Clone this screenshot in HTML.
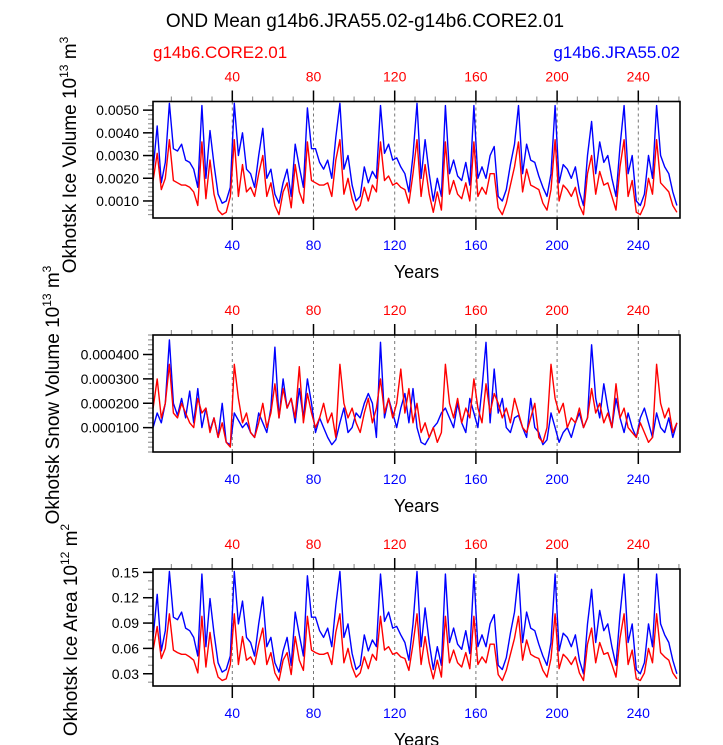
<!DOCTYPE html>
<html><head><meta charset="utf-8"><style>body{margin:0;background:#fff}svg{display:block;font-family:"Liberation Sans",sans-serif}</style></head>
<body>
<svg id="c" width="723" height="745" viewBox="0 0 723 745">
<text x="365" y="27" font-size="19" text-anchor="middle">OND Mean g14b6.JRA55.02-g14b6.CORE2.01</text>
<text x="153" y="58" font-size="17" fill="#f00">g14b6.CORE2.01</text>
<text x="680" y="58" font-size="17" fill="#00f" text-anchor="end">g14b6.JRA55.02</text>
</svg>
<script>
const years = []; for (let i = 0; i < 130; i++) years.push(2 * i + 1);
const xTicks = [40, 80, 120, 160, 200, 240];
const iceVolBlue = [24,43,18,27,53,33,32,35,28,27,24,16,52,20,41,26,13,9,10,16,53,30,40,24,22,16,30,42,20,24,13,9,18,24,12,35,25,16,51,33,33,27,24,28,20,38,53,24,30,17,10,12,25,18,23,20,52,31,35,28,29,25,22,14,30,53,20,37,22,10,20,12,52,22,28,21,19,27,17,52,20,25,20,30,34,12,10,15,26,35,52,22,35,28,27,21,16,12,22,52,18,26,24,20,25,14,8,30,45,22,36,27,30,20,12,34,52,22,30,10,8,13,30,20,52,30,25,22,14,8];
const iceVolRed = [19,31,15,20,37,19,18,17,17,16,14,8,36,11,28,13,6,4,5,12,37,12,26,14,16,12,22,30,12,18,8,4,14,18,7,26,14,9,36,19,18,17,17,18,12,28,37,13,20,11,6,8,16,10,17,14,36,19,21,17,18,16,15,9,22,37,12,26,13,5,14,6,36,13,19,13,11,18,10,36,12,16,13,22,22,7,4,9,17,25,36,14,24,17,16,15,9,6,15,37,10,17,15,12,16,8,4,22,30,13,23,17,18,12,6,25,37,12,19,5,4,8,20,13,37,18,16,14,8,5];
const snowBlue = [10,16,12,20,46,20,15,22,14,25,12,26,10,18,9,14,6,20,4,3,16,13,10,12,8,6,16,12,8,18,43,14,30,18,22,12,26,14,30,20,8,14,10,6,3,5,12,18,8,10,16,14,20,24,20,6,45,14,22,16,10,18,24,12,26,10,4,3,6,10,12,16,18,14,10,20,12,8,22,16,10,26,45,12,34,16,22,10,8,14,15,10,6,22,10,8,3,5,16,10,4,8,10,6,12,16,10,14,44,22,14,28,18,10,22,14,8,16,10,6,14,18,12,6,16,10,8,14,6,12];
const snowRed = [18,30,14,20,36,16,14,20,16,12,10,22,16,18,8,14,6,12,4,2,36,22,12,16,8,6,12,20,10,16,28,14,26,18,22,14,35,12,24,16,10,14,20,12,16,6,36,20,14,18,12,8,16,22,12,18,30,16,22,14,20,34,16,26,12,20,8,12,6,10,4,8,36,20,14,22,12,18,14,30,18,12,28,16,24,20,14,18,12,22,16,10,8,14,20,6,4,10,36,22,16,20,10,14,12,18,10,14,26,16,20,12,16,10,28,14,18,10,8,6,12,8,4,6,36,20,14,18,8,12];
const areaBlue = [73,124,57,81,151,97,94,103,84,81,73,51,148,62,119,78,43,32,35,51,151,89,116,73,67,51,89,121,62,73,43,32,57,73,40,103,76,51,146,97,97,81,73,84,62,111,151,73,89,54,35,40,76,57,70,62,148,92,103,84,86,76,67,46,89,151,62,108,67,35,62,40,148,67,84,65,59,81,54,148,62,76,62,89,100,40,35,49,78,103,148,67,103,84,81,65,51,40,67,148,57,78,73,62,76,46,30,89,130,67,105,81,89,62,40,100,148,67,89,35,30,43,89,62,148,89,76,67,46,30];
const areaRed = [58,86,48,60,101,58,55,53,53,50,46,31,98,38,79,43,26,22,24,41,101,41,74,46,50,41,65,84,41,55,31,22,46,55,29,74,46,34,98,58,55,53,53,55,41,79,101,43,60,38,26,31,50,36,53,46,98,58,62,53,55,50,48,34,65,101,41,74,43,24,46,26,98,43,58,43,38,55,36,98,41,50,43,65,65,29,22,34,53,72,98,46,70,53,50,48,34,26,48,101,36,53,48,41,50,31,22,65,84,43,67,53,55,41,26,72,101,41,58,24,22,31,60,43,101,55,50,46,31,24];
const ticks1 = [0.001,0.002,0.003,0.004,0.005], labels1 = ["0.0010","0.0020","0.0030","0.0040","0.0050"];
const ticks2 = [0.0001,0.0002,0.0003,0.0004], labels2 = ["0.000100","0.000200","0.000300","0.000400"];
const ticks3 = [0.03,0.06,0.09,0.12,0.15], labels3 = ["0.03","0.06","0.09","0.12","0.15"];

const NS = "http://www.w3.org/2000/svg", svg = document.getElementById('c');
function mk(tag, attrs, parent) { const e = document.createElementNS(NS, tag); for (const k in attrs) e.setAttribute(k, attrs[k]); (parent || svg).appendChild(e); return e; }
const X0 = 153, X1 = 680;
function xs(yr) { return 232.3 + (yr - 40) * 2.03; }

function panel(name, top, bot, vmin, vmax, scale, blue, red, ticks, labels, minorStep, ylabel, sup1, sup2, labX, labC) {
  const g = mk('g', {});
  
  
  const ys = v => bot - (v - vmin) / (vmax - vmin) * (bot - top);
  xTicks.forEach(t => {
    const l = mk('line', {x1: xs(t), x2: xs(t), y1: top, y2: bot, stroke: '#777', 'stroke-width': 1, 'stroke-dasharray': '3,3'}, g);
    
    
  });
  for (let t = 10; t <= 260; t += 10) {
    const major = t % 40 === 0;
    mk('line', {x1: xs(t), x2: xs(t), y1: top - (major ? 11 : 5), y2: top, stroke: major ? '#000' : '#999', 'stroke-width': major ? 1.5 : 1.2}, g);
    if (major) mk('line', {x1: xs(t), x2: xs(t), y1: bot, y2: bot + 12, stroke: '#000', 'stroke-width': 1.5}, g);
  }
  xTicks.forEach(t => {
    const a = mk('text', {x: xs(t), y: top - 20, 'font-size': 14, fill: '#f00', 'text-anchor': 'middle'}, g); a.textContent = t;
    
    
    const b = mk('text', {x: xs(t), y: bot + 32, 'font-size': 14, fill: '#00f', 'text-anchor': 'middle'}, g); b.textContent = t;
    
    
  });
  for (let v = Math.ceil(vmin / minorStep) * minorStep; v <= vmax; v += minorStep) {
    mk('line', {x1: X0 - 5, x2: X0, y1: ys(v), y2: ys(v), stroke: '#999', 'stroke-width': 1.2}, g);
  }
  ticks.forEach((t, i) => {
    mk('line', {x1: X0 - 10, x2: X0, y1: ys(t), y2: ys(t), stroke: '#000', 'stroke-width': 1.5}, g);
    const tx = mk('text', {x: X0 - 14, y: ys(t) + 5, 'font-size': 14, 'text-anchor': 'end'}, g); tx.textContent = labels[i];
    
    
  });
  [[blue, '#00f', 'jra-series-line'], [red, '#f00', 'core-series-line']].forEach(([arr, col, nm]) => {
    const d = arr.map((v, i) => (i ? 'L' : 'M') + xs(years[i]).toFixed(1) + ',' + Math.max(top, Math.min(bot, ys(v * scale))).toFixed(1)).join('');
    const p = mk('path', {d, fill: 'none', stroke: col, 'stroke-width': 1.4, 'stroke-linejoin': 'round'}, g);
    
    
  });
  const fr = mk('rect', {x: X0, y: top, width: X1 - X0, height: bot - top, fill: 'none', stroke: '#000', 'stroke-width': 1.6}, g);
  
  
  const yr = mk('text', {x: (X0 + X1) / 2, y: bot + 60, 'font-size': 18, 'text-anchor': 'middle'}, g); yr.textContent = 'Years';
  
  
  const yl = mk('text', {x: 0, y: 0, 'font-size': 19, 'text-anchor': 'middle', transform: `translate(${labX},${labC}) rotate(-90)`}, g);
  yl.innerHTML = ylabel + ' 10<tspan dy="-8" font-size="12">' + sup1 + '</tspan><tspan dy="8"> m</tspan><tspan dy="-8" font-size="12">' + sup2 + '</tspan>';
  
  
}
panel('ice-volume-panel', 101.5, 218, 0.00025, 0.00538, 0.0001, iceVolBlue, iceVolRed, ticks1, labels1, 0.0002, 'Okhotsk Ice Volume', '13', '3', 76, 155);
panel('snow-volume-panel', 335, 452, 0.0000, 0.00048, 0.00001, snowBlue, snowRed, ticks2, labels2, 0.00002, 'Okhotsk Snow Volume', '13', '3', 59, 395);
panel('ice-area-panel', 569, 686, 0.0155, 0.154, 0.001, areaBlue, areaRed, ticks3, labels3, 0.01, 'Okhotsk Ice Area', '12', '2', 77, 630);
</script>
</body></html>
